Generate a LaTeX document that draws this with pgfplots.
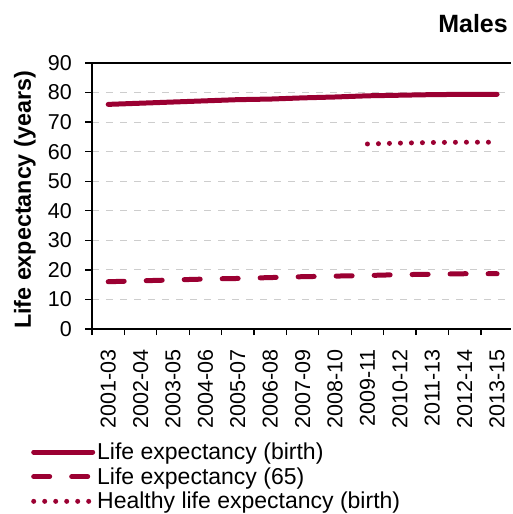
\documentclass[border=0pt]{standalone}
\usepackage{pgfplots}
\pgfplotsset{compat=1.18}
\usepackage{fontspec}
\setmainfont{Liberation Sans}
\definecolor{maroon}{RGB}{155,0,50}
\definecolor{gridgray}{RGB}{205,205,205}
\begin{document}
\begin{tikzpicture}
\useasboundingbox (-92pt,-185pt) rectangle (420pt,329pt);
\begin{axis}[
  at={(0,0)}, anchor=south west,
  scale only axis, width=419pt, height=266pt,
  xmin=-0.5, xmax=12.43, ymin=0, ymax=90,
  axis x line*=bottom, axis y line*=left,
  axis line style={black, line width=1.3pt},
  every tick/.style={black, line width=1.3pt},
  tick align=outside,
  xtick={0,...,12},
  xticklabels={2001-03,2002-04,2003-05,2004-06,2005-07,2006-08,2007-09,2008-10,2009-11,2010-12,2011-13,2012-14,2013-15},
  major x tick style={draw=none},
  minor xtick={-0.5,0.5,...,11.5},
  minor tick length=6pt,
  x tick label style={rotate=90, anchor=east, font=\fontsize{21.5}{23}\selectfont, inner sep=0pt, xshift=-13pt},
  ytick={0,10,...,80},
  extra y ticks={90},
  extra y tick style={grid=major, major grid style={black, solid, line width=1.3pt}},
  major tick length=7pt,
  ymajorgrids,
  major grid style={gridgray, dash pattern=on 7pt off 7pt, line width=0.8pt},
  y tick label style={font=\fontsize{21.5}{23}\selectfont, /pgf/number format/assume math mode=true, inner sep=0pt, xshift=-13pt},
  ylabel={\bfseries Life expectancy (years)},
  ylabel style={at={(axis description cs:-0.16,0.485)}, anchor=center, font=\fontsize{23.3}{25}\selectfont},
  legend style={at={(axis description cs:-0.1456,-0.42)}, anchor=north west, draw=none, fill=none, inner sep=0pt, font=\fontsize{23}{25}\selectfont, row sep=2.5pt, legend cell align=left},
  legend image code/.code={\draw[#1] (0pt,0pt) -- (59pt,0pt);},
  clip=false,
]
\addplot[maroon, line width=5pt, line cap=round] coordinates {
(0,76.0) (1,76.4) (2,76.8) (3,77.2) (4,77.6) (5,77.8) (6,78.2) (7,78.5) (8,78.9) (9,79.1) (10,79.3) (11,79.4) (12,79.4)};
\addlegendentry{Life expectancy (birth)}
\addplot[maroon, line width=5pt, line cap=round, dash pattern=on 16pt off 22pt] coordinates {
(0,16.0) (1,16.3) (2,16.6) (3,16.9) (4,17.1) (5,17.4) (6,17.7) (7,17.9) (8,18.1) (9,18.4) (10,18.5) (11,18.7) (12,18.7)};
\addlegendentry{Life expectancy (65)}
\addplot[maroon, line width=5pt, line cap=round, dash pattern=on 0pt off 11pt] coordinates {
(8,62.6) (9,62.9) (10,63.1) (11,63.2) (12,63.2)};
\addlegendentry{Healthy life expectancy (birth)}
\end{axis}
\node[anchor=base east, font=\fontsize{25}{27}\selectfont\bfseries, inner sep=0pt] at (416pt,296pt) {Males};
\end{tikzpicture}
\end{document}
